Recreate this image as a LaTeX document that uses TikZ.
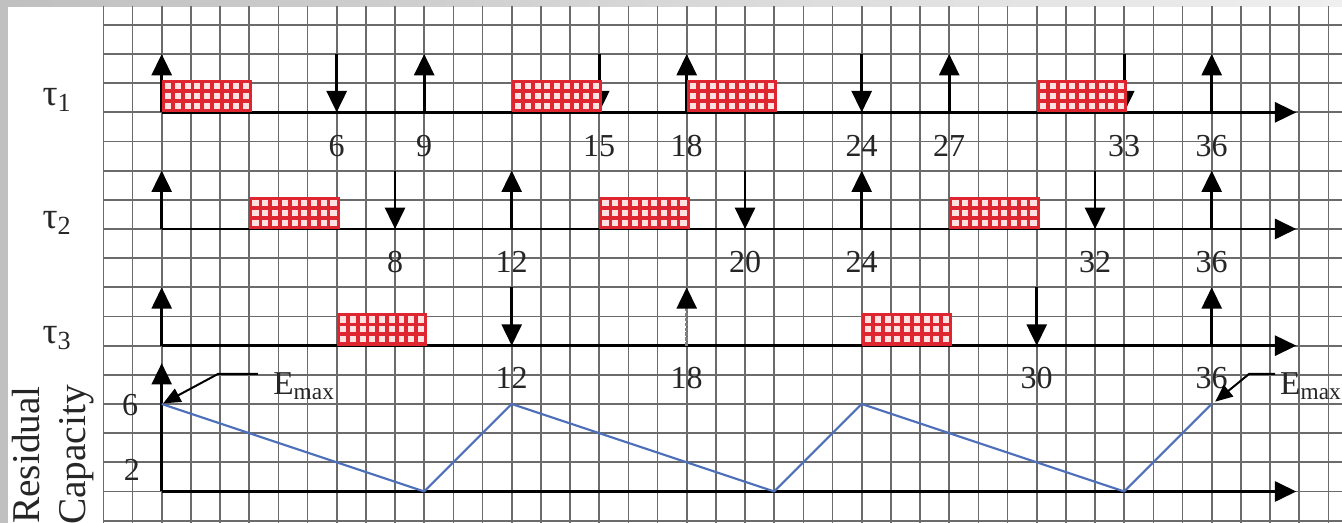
\documentclass[tikz,border=0pt]{standalone}
\usepackage{fontspec}
\setmainfont{Liberation Serif}
\usetikzlibrary{arrows.meta,calc}
\definecolor{jobred}{RGB}{222,38,48}
\definecolor{jobpale}{RGB}{255,225,225}
\definecolor{capblue}{RGB}{78,112,186}
\definecolor{framegray}{RGB}{192,192,192}
\tikzset{
  gridln/.style={black!58, line width=1.3pt},
  arr/.style={line width=2pt, -{Triangle[length=16pt,width=15pt]}},
  lightarr/.style={line width=2pt, black!50, dash pattern=on 2.5pt off 1.2pt, -{Triangle[length=16pt,width=15pt,color=black]}},
  emarr/.style={line width=1.5pt, -{Triangle[length=13pt,width=11pt]}},
  num/.style={font=\fontsize{24}{26}\selectfont, inner sep=0pt, text=black!85},
  taulbl/.style={font=\fontsize{28}{30}\selectfont, inner sep=0pt, text=black!85},
  emaxlbl/.style={font=\fontsize{25}{27}\selectfont, inner sep=0pt, anchor=base west, text=black!85},
  job/.style={draw=jobred, fill=jobpale, line width=2.4pt, inner sep=0pt, anchor=south west,
    minimum width=65.625pt, minimum height=21.875pt,
    path picture={
      \foreach \k in {1,...,8} {\draw[jobred, line width=2.8pt]
        ($(path picture bounding box.south west)+(\k*0.3333333,0)$) -- ++(0,1);}
      \foreach \k in {1,2} {\draw[jobred, line width=2.8pt]
        ($(path picture bounding box.south west)+(0,\k*0.3333333)$) -- ++(3,0);}
    }},
  capline/.style={draw=capblue, line width=1.6pt, line join=round},
}
\begin{document}
\begin{tikzpicture}[x=21.875pt,y=21.875pt]
\useasboundingbox (-5.544,-1.080) rectangle (40.467,16.851);
\fill[white] (-5.544,-1.080) rectangle (40.467,16.851);
\fill[framegray] (-5.544,-1.080) rectangle (-5.27,16.851);
\shade[left color=framegray, right color=framegray!25] (-5.27,16.645) rectangle (40.467,16.851);
\foreach \gx in {-2,...,40} { \draw[gridln] (\gx,-1.080) -- (\gx,16.645); }
\foreach \gy in {-1,...,16} { \draw[gridln] (-2,\gy) -- (40.467,\gy); }

% axes
\foreach \row/\y in {1/13,2/9,3/5,4/0} {
  \coordinate (ax\row s) at (0,\y);
  \coordinate (ax\row e) at (38.9,\y);
  \draw[arr] (ax\row s) -- (ax\row e);
}
\coordinate (capTop) at (0,4.4);
\draw[arr] (ax4s) -- (capTop);

% tau1 releases and deadlines
\foreach \t in {0,9,18,27,36} {
  \coordinate (r1-\t) at (\t,13); \coordinate (r1-\t-h) at (\t,15);
  \draw[arr] (r1-\t) -- (r1-\t-h);
}
\foreach \t in {6,15,24,33} {
  \coordinate (d1-\t) at (\t,15); \coordinate (d1-\t-h) at (\t,13);
  \draw[arr] (d1-\t) -- (d1-\t-h);
}
% tau2
\foreach \t in {0,12,24,36} {
  \coordinate (r2-\t) at (\t,9); \coordinate (r2-\t-h) at (\t,11);
  \draw[arr] (r2-\t) -- (r2-\t-h);
}
\foreach \t in {8,20,32} {
  \coordinate (d2-\t) at (\t,11); \coordinate (d2-\t-h) at (\t,9);
  \draw[arr] (d2-\t) -- (d2-\t-h);
}
% tau3
\foreach \t in {0,36} {
  \coordinate (r3-\t) at (\t,5); \coordinate (r3-\t-h) at (\t,7);
  \draw[arr] (r3-\t) -- (r3-\t-h);
}
\coordinate (r3-18) at (18,5); \coordinate (r3-18-h) at (18,7);
\draw[lightarr] (r3-18) -- (r3-18-h);
\foreach \t in {12,30} {
  \coordinate (d3-\t) at (\t,7); \coordinate (d3-\t-h) at (\t,5);
  \draw[arr] (d3-\t) -- (d3-\t-h);
}

% job boxes
\foreach \t [count=\i] in {0,12,18,30} { \node[job] (j1-\i) at (\t,13) {}; }
\foreach \t [count=\i] in {3,15,27} { \node[job] (j2-\i) at (\t,9) {}; }
\foreach \t [count=\i] in {6,24} { \node[job] (j3-\i) at (\t,5) {}; }

% time labels
\foreach \t in {6,9,15,18,24,27,33,36} { \node[num] (n1-\t) at (\t,11.85) {\t}; }
\foreach \t in {8,12,20,24,32,36} { \node[num] (n2-\t) at (\t,7.88) {\t}; }
\foreach \t in {12,18,30,36} { \node[num] (n3-\t) at (\t,3.88) {\t}; }

% task labels
\node[taulbl] (tau1) at (-3.59,13.42) {τ\textsubscript{1}};
\node[taulbl] (tau2) at (-3.59,9.2) {τ\textsubscript{2}};
\node[taulbl] (tau3) at (-3.59,5.26) {τ\textsubscript{3}};

% capacity
\node[num] (c6) at (-1.08,2.97) {6};
\node[num] (c2) at (-1.02,0.74) {2};
\node[rotate=90, align=center, inner sep=0pt, text=black!85,
  font=\fontsize{29.5}{35}\selectfont] (rescap) at (-3.72,1.25) {Residual\\Capacity};

\coordinate (p0) at (0,3);
\coordinate (p1) at (9,0);
\coordinate (p2) at (12,3);
\coordinate (p3) at (21,0);
\coordinate (p4) at (24,3);
\coordinate (p5) at (33,0);
\coordinate (p6) at (36,3);
\draw[capline] (p0) -- (p1) -- (p2) -- (p3) -- (p4) -- (p5) -- (p6);

% Emax annotations
\node[emaxlbl] (emA) at (3.82,3.31) {E\textsubscript{max}};
\coordinate (emAs) at (3.3,4.03);
\coordinate (emAk) at (1.93,4.03);
\coordinate (emAt) at (0.05,3.02);
\draw[emarr] (emAs) -- (emAk) -- (emAt);

\node[emaxlbl] (emB) at (38.34,3.31) {E\textsubscript{max}};
\coordinate (emBs) at (38.17,4.03);
\coordinate (emBk) at (37.28,4.03);
\coordinate (emBt) at (36.12,3.08);
\draw[emarr] (emBs) -- (emBk) -- (emBt);
\end{tikzpicture}
\end{document}
